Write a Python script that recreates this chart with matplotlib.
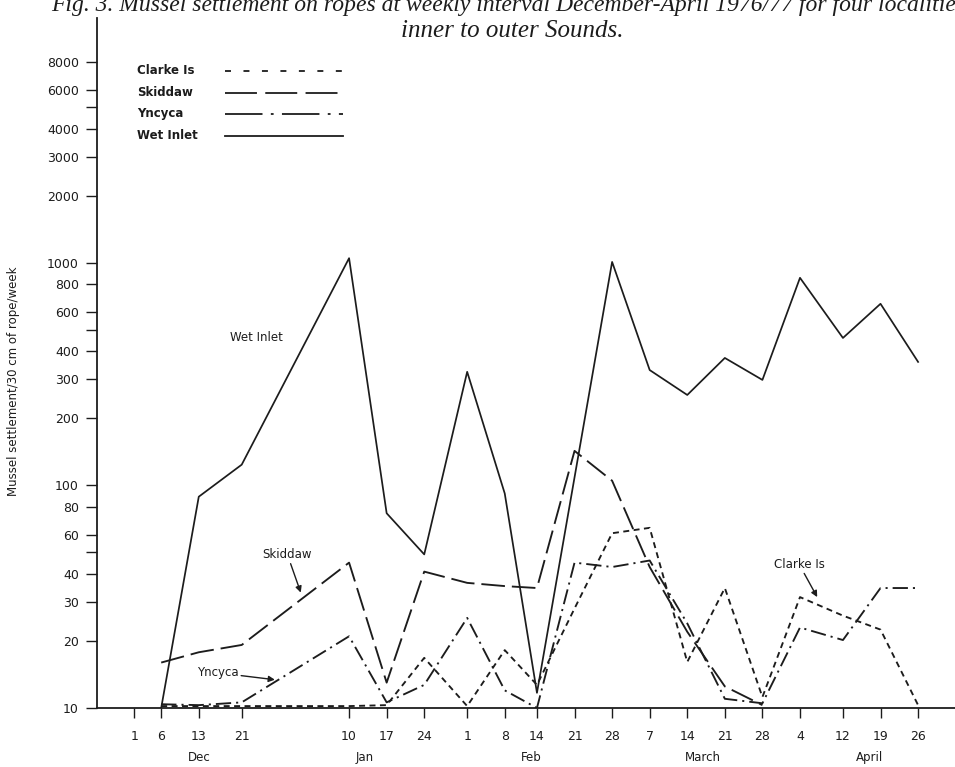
import matplotlib
matplotlib.use("Agg")
import matplotlib.pyplot as plt
from matplotlib.lines import Line2D
import pandas as pd

plt.rcParams['font.family'] = 'DejaVu Sans'
plt.rcParams['lines.scale_dashes'] = False

# weekly sampling dates (1976/77) and settlement per 30 cm rope per week
wet_dates = ['1976-12-06', '1976-12-13', '1976-12-21', '1977-01-10', '1977-01-17',
             '1977-01-24', '1977-02-01', '1977-02-08', '1977-02-14', '1977-02-28',
             '1977-03-07', '1977-03-14', '1977-03-21', '1977-03-28', '1977-04-04',
             '1977-04-12', '1977-04-19', '1977-04-26']
wet_vals = [10, 89, 124, 1050, 75, 49, 324, 92, 11.7, 1010,
            330, 255, 374, 298, 857, 460, 655, 359]

skid_dates = ['1976-12-06', '1976-12-13', '1976-12-21', '1977-01-10', '1977-01-17',
              '1977-01-24', '1977-02-01', '1977-02-08', '1977-02-14', '1977-02-21',
              '1977-02-28', '1977-03-07', '1977-03-14', '1977-03-21', '1977-03-28']
skid_vals = [16, 17.8, 19.2, 45, 13, 41, 36.5, 35.3, 34.6, 143, 105, 43, 22, 12.5, 10.3]

ync_dates = ['1976-12-06', '1976-12-13', '1976-12-21', '1977-01-10', '1977-01-17',
             '1977-01-24', '1977-02-01', '1977-02-08', '1977-02-14', '1977-02-21',
             '1977-02-28', '1977-03-07', '1977-03-14', '1977-03-21', '1977-03-28',
             '1977-04-04', '1977-04-12', '1977-04-19', '1977-04-26']
ync_vals = [10.4, 10.3, 10.6, 21, 10.6, 12.7, 25.4, 12, 10, 45,
            43, 46, 24, 11, 10.5, 23, 20.2, 34.6, 34.6]

clarke_dates = ync_dates
clarke_vals = [10.2, 10.2, 10.2, 10.2, 10.3, 16.8, 10.2, 18.2, 12.7, 28,
               61, 64.5, 16.1, 34.6, 11.2, 31.5, 26, 22.5, 10.3]

tick_dates = ['1976-12-01', '1976-12-06', '1976-12-13', '1976-12-21', '1977-01-10',
              '1977-01-17', '1977-01-24', '1977-02-01', '1977-02-08', '1977-02-14',
              '1977-02-21', '1977-02-28', '1977-03-07', '1977-03-14', '1977-03-21',
              '1977-03-28', '1977-04-04', '1977-04-12', '1977-04-19', '1977-04-26']
month_names = ['Dec', 'Jan', 'Feb', 'March', 'April']
month_pos = ['1976-12-13', '1977-01-13', '1977-02-13', '1977-03-17', '1977-04-17']

y_ticks = [10, 20, 30, 40, 50, 60, 80, 100, 200, 300, 400, 500, 600, 800,
           1000, 2000, 3000, 4000, 5000, 6000, 8000]
y_unlabelled = [50, 500, 5000]

ink = '#1c1c1c'
W, H = 955, 767
fig = plt.figure(figsize=(W / 100, H / 100), dpi=100)
ax = fig.add_axes([97 / W, 59 / H, 858 / W, 690 / H])

d = pd.to_datetime
ax.plot(d(wet_dates), wet_vals, color=ink, lw=1.25, ls='-')
ax.plot(d(skid_dates), skid_vals, color=ink, lw=1.35, dashes=(17, 5))
ax.plot(d(ync_dates), ync_vals, color=ink, lw=1.35, dashes=(11, 3.6, 1.5, 3.6))
ax.plot(d(clarke_dates), clarke_vals, color=ink, lw=1.35, dashes=(4.3, 3.2))

ax.set_yscale('log')
ax.set_ylim(10, 12600)
ax.set_xlim(d('1976-11-24 01:00'), d('1977-05-02 21:00'))

ax.set_yticks(y_ticks)
ax.set_yticklabels(['' if v in y_unlabelled else str(v) for v in y_ticks])
ax.yaxis.set_minor_locator(matplotlib.ticker.NullLocator())
ax.tick_params(axis='y', direction='out', length=8, width=1, pad=5,
               labelsize=9, colors=ink)

ax.set_xticks(d(tick_dates))
ax.set_xticklabels([str(t.day) for t in d(tick_dates)])
ax.xaxis.set_minor_locator(matplotlib.ticker.NullLocator())
ax.tick_params(axis='x', direction='out', length=7, width=1, pad=9,
               labelsize=9, colors=ink)

for name, pos in zip(month_names, month_pos):
    ax.text(d(pos), -0.072, name, transform=ax.get_xaxis_transform(),
            ha='center', va='center', fontsize=8.5, color=ink)

for side in ['top', 'right']:
    ax.spines[side].set_visible(False)
for side in ['left', 'bottom']:
    ax.spines[side].set_color(ink)
    ax.spines[side].set_linewidth(1.3)

fig.text(14 / W, 1 - 381 / H, 'Mussel settlement/30 cm of rope/week', rotation=90,
         ha='center', va='center', fontsize=8.5, color=ink)

# annotations on the lines
arrow = dict(arrowstyle='-|>', color=ink, lw=1.0, mutation_scale=9, shrinkA=0, shrinkB=0)
ax.text(d('1976-12-23 16:00'), 460, 'Wet Inlet', ha='center', va='center',
        fontsize=8.5, color=ink)
ax.annotate('Skiddaw', xy=(d('1977-01-01'), 33), xytext=(d('1976-12-29 12:00'), 49),
            ha='center', va='center', fontsize=8.5, color=ink, arrowprops=arrow)
ax.annotate('Yncyca', xy=(d('1976-12-27 04:00'), 13.4), xytext=(d('1976-12-16 12:00'), 14.4),
            ha='center', va='center', fontsize=8.5, color=ink, arrowprops=arrow)
ax.annotate('Clarke Is', xy=(d('1977-04-07 05:00'), 31.5), xytext=(d('1977-04-03 20:00'), 44.3),
            ha='center', va='center', fontsize=8.5, color=ink, arrowprops=arrow)

# key, top left
key = [('Clarke Is', (4.3, 9.0)), ('Skiddaw', (23, 6)),
       ('Yncyca', (27, 6, 2, 6)), ('Wet Inlet', None)]
for i, (lab, dash) in enumerate(key):
    yy = 1 - (71 + i * 21.5) / H
    fig.text(137 / W, yy, lab, ha='left', va='center', fontsize=8.5,
             fontweight='semibold', color=ink)
    ln = Line2D([225 / W, 343 / W], [yy, yy], transform=fig.transFigure,
                color=ink, lw=1.3)
    if dash:
        ln.set_dashes(dash)
    fig.add_artist(ln)

# caption, cropped at the top of the page
fig.text(965 / W, 1 - 11 / H,
         'Fig. 3. Mussel settlement on ropes at weekly interval December-April 1976/77 for four localities',
         ha='right', va='baseline', fontsize=17, family='Liberation Serif',
         style='italic', color=ink)
fig.text(512 / W, 1 - 37 / H, 'inner to outer Sounds.', ha='center', va='baseline',
         fontsize=18, family='Liberation Serif', style='italic', color=ink)

fig.savefig('out.png', dpi=100)
